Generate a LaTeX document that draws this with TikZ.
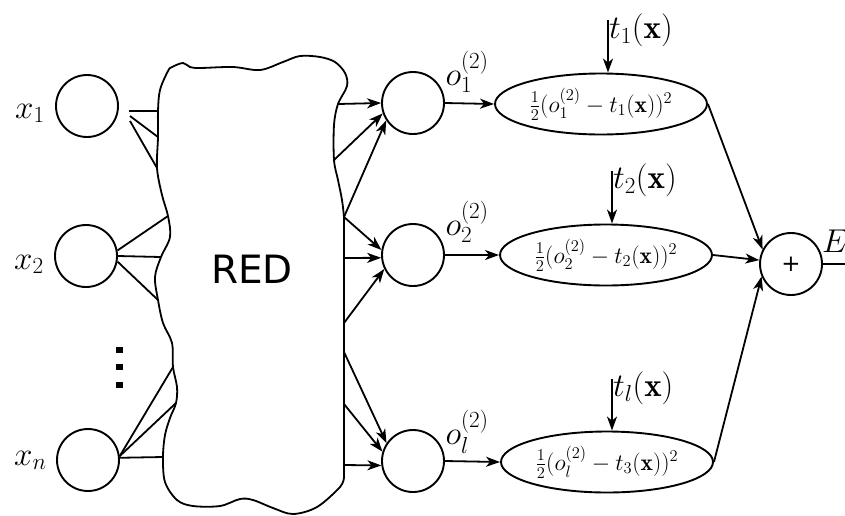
\RequirePackage{fix-cm}
\documentclass[tikz,border=0pt]{standalone}
\usepackage{fontspec}
\usepackage{amsmath}
\newfontfamily\dejavu{DejaVu Sans}
\usetikzlibrary{arrows.meta,shapes.geometric}

\begin{document}
\begin{tikzpicture}[x=1pt,y=-1pt,
  wire/.style={line width=1.8pt},
  arr/.style={wire,-{Stealth[length=14pt,width=10pt,inset=4pt]}},
  neuron/.style={draw,circle,minimum size=62pt,inner sep=0pt,line width=1.9pt},
  errbox/.style={draw,ellipse,minimum width=212pt,minimum height=61pt,inner sep=0pt,line width=1.9pt,
    font=\fontsize{23.5}{28}\selectfont},
  lbl/.style={inner sep=0pt,font=\fontsize{33}{40}\selectfont},
]
\useasboundingbox (0,0) rectangle (845,515);

% input units
\node[neuron] (x1) at (87,106) {};
\node[neuron] (x2) at (86,256) {};
\node[neuron] (xn) at (88,460) {};
\node[lbl,anchor=base west] at (15,118) {$x_1$};
\node[lbl,anchor=base west] at (14,269) {$x_2$};
\node[lbl,anchor=base west] at (14,465) {$x_n$};

% vertical dots between x_2 and x_n
\foreach \yy in {349.5,367,385}
  \fill (116,\yy-3) rectangle (123,\yy+3);

% points on the border of the network blob
\coordinate (s11) at (129,111);
\coordinate (s12) at (130,116);
\coordinate (s13) at (130,121);
\coordinate (b11) at (158,111);
\coordinate (b12) at (158,137);
\coordinate (b13) at (157,168);
\coordinate (b21) at (168,216);
\coordinate (b22) at (161,257);
\coordinate (b23) at (158,300);
\coordinate (bn1) at (173,367);
\coordinate (bn2) at (176,403);
\coordinate (bn3) at (163,457);
\coordinate (r1) at (338,104);
\coordinate (r2) at (334,160);
\coordinate (r3) at (344,217);
\coordinate (r4) at (344,258);
\coordinate (r5) at (344,323);
\coordinate (r6) at (344,352);
\coordinate (r7) at (344,404);
\coordinate (r8) at (344,465);

% the network blob
\draw[wire] plot[smooth,tension=0.55] coordinates {
  (344,477) (340,487) (317,507) (293,514) (273,508) (253,500) (240,499)
  (220,506) (193,506) (177,500) (165,482) (bn3) (165,435) (170,418) (bn2)
  (177,387) (bn1) (172,343) (163,323) (b23) (155,277) (b22) (170,237)
  (b21) (162,195) (b13) (b12) (b11) (160,90) (168,71) (172,67) (183,63)
  (190,67) (200,68) (233,67) (260,70) (283,62) (300,56) (320,57) (335,62)
  (345,73) (347,86) (r1) (334,125) (r2) (338,180) (342,200) (r3)} -- cycle;
\node[font=\dejavu\fontsize{39}{46}\selectfont,inner sep=0pt] (red) at (252,269) {RED};

% inputs into the blob
\draw[wire] (s11) -- (b11);
\draw[wire] (s12) -- (b12);
\draw[wire] (s13) -- (b13);
\draw[wire] (x2.10) -- (b21);
\draw[wire] (x2.0) -- (b22);
\draw[wire] (x2.-10) -- (b23);
\draw[wire] (xn.7) -- (bn1);
\draw[wire] (xn.7) -- (bn2);
\draw[wire] (xn.4) -- (bn3);

% output units
\node[neuron] (o1) at (413,103) {};
\node[neuron] (o2) at (413,255) {};
\node[neuron] (o3) at (413,461) {};
\node[lbl] at (467,72) {$o_1^{(2)}$};
\node[lbl] at (467,222) {$o_2^{(2)}$};
\node[lbl] at (467,432) {$o_l^{(2)}$};

\draw[arr] (r1) -- (o1.180);
\draw[arr] (r2) -- (o1.199);
\draw[arr] (r3) -- (o1.213);
\draw[arr] (r3) -- (o2.171);
\draw[arr] (r4) -- (o2.185);
\draw[arr] (r5) -- (o2.206);
\draw[arr] (r6) -- (o3.146);
\draw[arr] (r7) -- (o3.163);
\draw[arr] (r8) -- (o3.188);

% squared error terms
\node[errbox] (e1) at (601,104) {\makebox[0pt]{$\frac{1}{2}(o_1^{(2)}-t_1(\mathbf{x}))^2$}};
\node[errbox] (e2) at (606,255) {\makebox[0pt]{$\frac{1}{2}(o_2^{(2)}-t_2(\mathbf{x}))^2$}};
\node[errbox] (e3) at (607,462) {\makebox[0pt]{$\frac{1}{2}(o_l^{(2)}-t_3(\mathbf{x}))^2$}};

\draw[arr] (o1.east) -- (e1.west);
\draw[arr] (o2.east) -- (e2.west);
\draw[arr] (o3.east) -- (e3.west);

% targets
\coordinate (t1top) at (608,20);
\coordinate (t2top) at (612,171);
\coordinate (t3top) at (612,379);
\node[lbl,anchor=west] (t1) at (609,30) {$t_1(\mathbf{x})$};
\node[lbl,anchor=west] (t2) at (613,180) {$t_2(\mathbf{x})$};
\node[lbl,anchor=west] (t3) at (613,388) {$t_l(\mathbf{x})$};
\draw[arr] (t1top) -- (t1top |- e1.north);
\draw[arr] (t2top) -- (t2top |- e2.north);
\draw[arr] (t3top) -- (t3top |- e3.north);

% sum
\node[neuron,font=\dejavu\fontsize{23}{28}\selectfont] (sum) at (791,264) {+};
\draw[arr] (e1.east) -- (sum.153);
\draw[arr] (e2.east) -- (sum.173);
\draw[arr] (e3.east) -- (sum.203);
\coordinate (Eend) at (845,264);
\draw[wire] (sum.east) -- (Eend);
\node[lbl,anchor=base west] at (822,252) {$E$};
\end{tikzpicture}
\end{document}
